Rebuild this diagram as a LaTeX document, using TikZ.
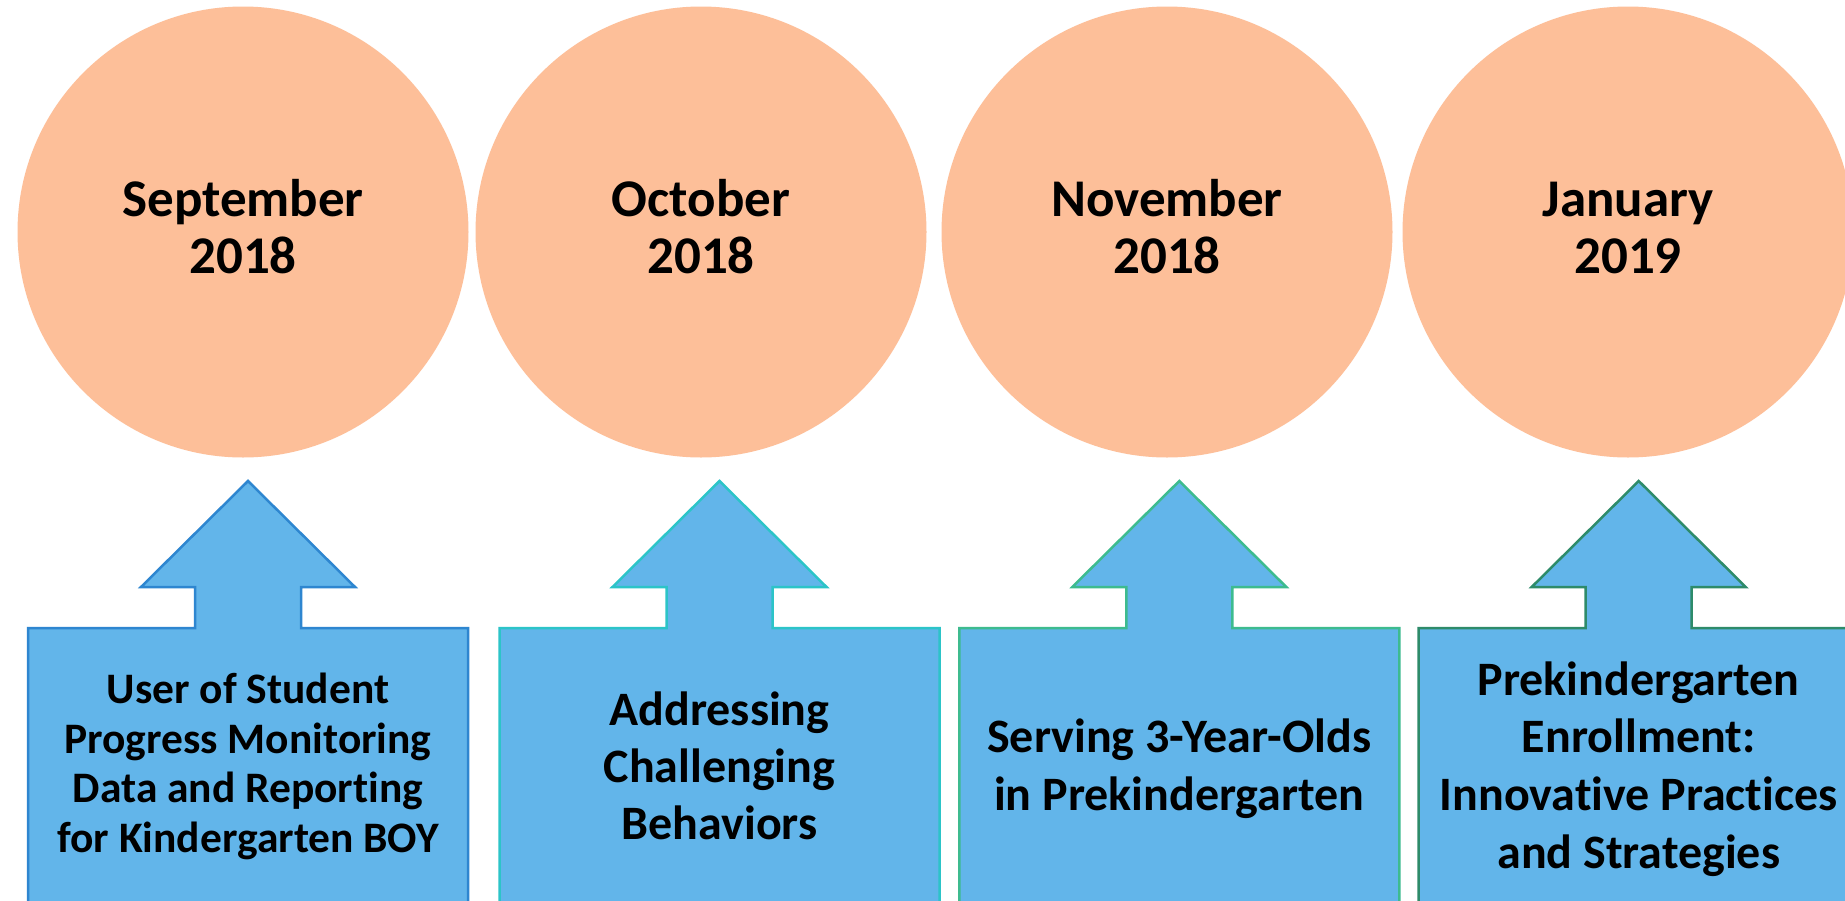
\documentclass[tikz,border=0pt]{standalone}
\usepackage{fontspec}
\setmainfont{Carlito}[Ligatures=NoCommon]
\usetikzlibrary{shapes.geometric}
\definecolor{peach}{RGB}{253,191,153}
\definecolor{skyfill}{RGB}{98,181,234}
\definecolor{bordA}{RGB}{46,134,208}
\definecolor{bordB}{RGB}{44,196,200}
\definecolor{bordC}{RGB}{61,187,143}
\definecolor{bordD}{RGB}{46,139,106}
\newcommand\lines[3]{\fontsize{#1pt}{#2pt}\selectfont\bfseries\begin{tabular}[t]{@{}c@{}}#3\end{tabular}}
\tikzset{
  month/.style={circle, fill=peach, draw=none, inner sep=0pt, minimum size=451pt},
  lbl/.style={anchor=base, inner sep=0pt, text=black},
  callout/.style={fill=skyfill, line width=2.5pt, line join=miter},
}
\newcommand\upcallout[2]{%
  \begin{scope}[xshift=#1pt]
    \draw[callout, draw=#2] (-220,930) -- (-220,628) -- (-53,628) -- (-53,587) -- (-107,587)
      -- (0,481) -- (107,587) -- (53,587) -- (53,628) -- (220,628) -- (220,930) -- cycle;
  \end{scope}}
\begin{document}
\begin{tikzpicture}[x=1pt,y=-1pt]
  \useasboundingbox (0,0) rectangle (1845,900);
  \clip (0,0) rectangle (1845,900);
  \fill[white] (0,0) rectangle (1845,900);

  \node[month] (c1) at (243,232) {};
  \node[month] (c2) at (701,232) {};
  \node[month] (c3) at (1167,232) {};
  \node[month] (c4) at (1628,232) {};

  \node[lbl] (m1) at (243,216.7) {\lines{53}{56.6}{September\\2018}};
  \node[lbl] (m2) at (701,216.7) {\lines{53}{56.6}{October\\2018}};
  \node[lbl] (m3) at (1167,216.7) {\lines{53}{56.6}{November\\2018}};
  \node[lbl] (m4) at (1628,216.7) {\lines{53}{56.6}{January\\2019}};

  \upcallout{248}{bordA}
  \upcallout{719.5}{bordB}
  \upcallout{1179.3}{bordC}
  \upcallout{1638.7}{bordD}

  \node[lbl] (e1) at (248,703.3) {\lines{43.5}{49.8}{User of Student\\Progress Monitoring\\Data and Reporting\\for Kindergarten BOY}};
  \node[lbl] (e2) at (719.5,725) {\lines{48}{57}{Addressing\\Challenging\\Behaviors}};
  \node[lbl] (e3) at (1179.3,752.7) {\lines{48}{57.3}{Serving 3-Year-Olds\\in Prekindergarten}};
  \node[lbl] (e4) at (1638.7,695) {\lines{48}{57.7}{Prekindergarten\\Enrollment:\\Innovative Practices\\and Strategies}};
\end{tikzpicture}
\end{document}
